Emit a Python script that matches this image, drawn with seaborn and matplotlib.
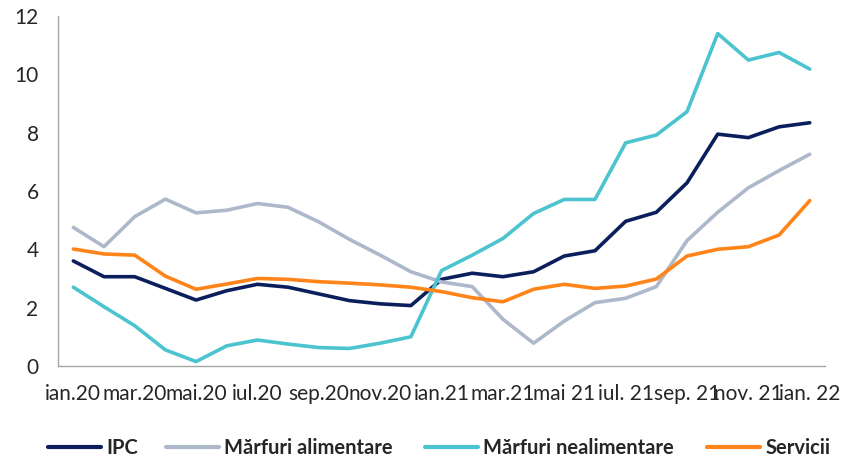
import numpy as np
import pandas as pd
import matplotlib
matplotlib.use("Agg")
import matplotlib.pyplot as plt
import seaborn as sns

# luni ian.20 .. ian.22
luni = ["ian.20", "feb.20", "mar.20", "apr.20", "mai.20", "iun.20", "iul.20", "aug.20",
        "sep.20", "oct.20", "nov.20", "dec.20", "ian.21", "feb.21", "mar.21", "apr.21",
        "mai 21", "iun. 21", "iul. 21", "aug. 21", "sep. 21", "oct. 21", "nov. 21", "dec. 21", "ian. 22"]

ipc = [3.6, 3.06, 3.06, 2.66, 2.26, 2.58, 2.8, 2.7, 2.47, 2.24, 2.13, 2.07,
       2.97, 3.18, 3.06, 3.23, 3.77, 3.95, 4.96, 5.27, 6.28, 7.95, 7.83, 8.2, 8.34]
alimentare = [4.75, 4.09, 5.12, 5.72, 5.25, 5.34, 5.57, 5.44, 4.94, 4.34, 3.8, 3.23,
              2.88, 2.72, 1.6, 0.78, 1.54, 2.17, 2.32, 2.72, 4.3, 5.27, 6.11, 6.7, 7.26]
nealimentare = [2.7, 2.03, 1.38, 0.55, 0.15, 0.69, 0.89, 0.75, 0.63, 0.6, 0.78, 1.0,
                3.27, 3.8, 4.37, 5.23, 5.71, 5.71, 7.65, 7.92, 8.72, 11.4, 10.49, 10.75, 10.18]
servicii = [4.01, 3.84, 3.8, 3.08, 2.63, 2.81, 3.0, 2.97, 2.89, 2.84, 2.78, 2.7,
            2.55, 2.34, 2.2, 2.63, 2.8, 2.66, 2.74, 2.98, 3.77, 4.0, 4.09, 4.49, 5.67]

serii = {
    "IPC": ipc,
    "Mărfuri alimentare": alimentare,
    "Mărfuri nealimentare": nealimentare,
    "Servicii": servicii,
}
culori = {
    "IPC": "#0b1f5c",
    "Mărfuri alimentare": "#adb8cb",
    "Mărfuri nealimentare": "#4cc4cf",
    "Servicii": "#ff8419",
}

df = pd.DataFrame([
    {"luna": i, "serie": nume, "valoare": v}
    for nume, vals in serii.items() for i, v in enumerate(vals)
])

sns.set_style("white")
plt.rcParams["font.family"] = ["Lato", "DejaVu Sans"]

fig = plt.figure(figsize=(8.48, 4.58), dpi=100)
ax = fig.add_axes([0.0684, 0.201, 0.9046, 0.764])

sns.lineplot(data=df, x="luna", y="valoare", hue="serie", palette=culori,
             linewidth=2.6, ax=ax, legend=True)

ax.set_xlim(-0.5, len(luni) - 0.5)
ax.set_ylim(0, 12)
ax.set_yticks(range(0, 13, 2))
ax.tick_params(axis="y", length=0, labelsize=15, pad=14)

ax.set_xticks(range(0, len(luni), 2))
ax.set_xticklabels(luni[::2], fontsize=15)
ax.set_xticks(np.arange(-0.5, len(luni), 1), minor=True)
ax.tick_params(axis="x", which="major", length=0, pad=13)
ax.tick_params(axis="x", which="minor", length=5, width=1, color="#a6a6a6", direction="out")

ax.set_xlabel("")
ax.set_ylabel("")
for s in ["top", "right"]:
    ax.spines[s].set_visible(False)
for s in ["left", "bottom"]:
    ax.spines[s].set_color("#a6a6a6")
    ax.spines[s].set_linewidth(1)

# legenda: cate o intrare, ca in graficul original
handles, labels = ax.get_legend_handles_labels()
ax.get_legend().remove()
pozitii_x = [48, 166, 425, 707]
for h, lab, px in zip(handles, labels, pozitii_x):
    leg = fig.legend([h], [lab], loc="center left", bbox_to_anchor=(px / 848, 1 - 448 / 458),
                     frameon=False, borderpad=0, borderaxespad=0, handlelength=2.65,
                     handletextpad=0.25, prop={"weight": "bold", "size": 14.5})
    for line in leg.get_lines():
        line.set_linewidth(3)

fig.savefig("out.png", dpi=100)
